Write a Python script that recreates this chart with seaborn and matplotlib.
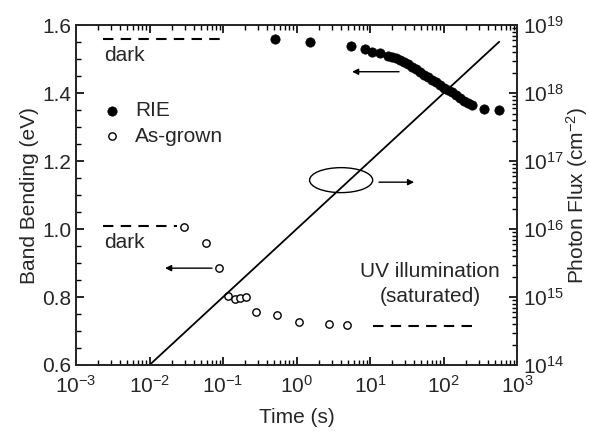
import numpy as np
import pandas as pd
import seaborn as sns
import matplotlib
matplotlib.use("Agg")
import matplotlib.pyplot as plt
from matplotlib.patches import Ellipse
from matplotlib.ticker import MultipleLocator, LogLocator, NullFormatter, FormatStrFormatter

# ---------------- data ----------------
rie_time = [0.51, 1.53, 5.5, 8.55, 10.6, 13.7, 17.6, 19.9, 22.6, 25.6, 29.0, 32.9,
            37.3, 42.3, 47.9, 54.3, 61.5, 69.8, 79.1, 89.6, 101.6, 115, 130.6,
            148, 167.6, 190, 215, 244, 356, 569]
rie_bb = [1.559, 1.550, 1.538, 1.529, 1.521, 1.518, 1.509, 1.507, 1.502, 1.497,
          1.491, 1.485, 1.478, 1.470, 1.462, 1.454, 1.447, 1.440, 1.432, 1.424,
          1.416, 1.409, 1.402, 1.394, 1.386, 1.378, 1.371, 1.365, 1.354, 1.350]

asg_time = [0.0294, 0.0588, 0.0883, 0.117, 0.146, 0.170, 0.206, 0.281, 0.543,
            1.08, 2.77, 4.86]
asg_bb = [1.006, 0.959, 0.885, 0.803, 0.794, 0.797, 0.799, 0.756, 0.747,
          0.726, 0.721, 0.718]

flux_time = [0.01, 570]
flux_val = [1e14, 5.7e18]

dark_rie_time = [0.0023, 0.1]
dark_rie_level = [1.559, 1.559]
dark_asg_time = [0.0023, 0.0237]
dark_asg_level = [1.009, 1.009]
uv_time = [11, 244]
uv_level = [0.715, 0.715]

x_limits = [1e-3, 1e3]
y_limits = [0.6, 1.6]
flux_limits = [1e14, 1e19]

# ---------------- style ----------------
sns.set_style("ticks")
plt.rcParams["font.family"] = ["Liberation Sans", "DejaVu Sans"]
plt.rcParams["mathtext.default"] = "regular"
plt.rcParams["axes.linewidth"] = 1.3
FS = 15
TC = "black"

fig = plt.figure(figsize=(5.89, 4.34), dpi=100)
ax = fig.add_axes([0.129, 0.159, 0.749, 0.783])

rie_df = pd.DataFrame({"t": rie_time, "bb": rie_bb})
asg_df = pd.DataFrame({"t": asg_time, "bb": asg_bb})
flux_df = pd.DataFrame({"t": flux_time, "f": flux_val})

sns.scatterplot(data=rie_df, x="t", y="bb", ax=ax, color="black", s=45,
                edgecolor="black", linewidth=0.5, label="RIE", zorder=3)
sns.scatterplot(data=asg_df, x="t", y="bb", ax=ax, facecolor="white", s=28,
                edgecolor="black", linewidth=1.0, label="As-grown", zorder=3)

dash = dict(color="black", lw=1.5, dashes=(5, 3.5))
ax.plot(dark_rie_time, dark_rie_level, **dash)
ax.plot(dark_asg_time, dark_asg_level, **dash)
ax.plot(uv_time, uv_level, **dash)

ax.set_xscale("log")
ax.set_xlim(*x_limits)
ax.set_ylim(*y_limits)
ax.yaxis.set_major_locator(MultipleLocator(0.2))
ax.yaxis.set_minor_locator(MultipleLocator(0.05))
ax.yaxis.set_major_formatter(FormatStrFormatter("%.1f"))
ax.xaxis.set_major_locator(LogLocator(base=10, numticks=10))
ax.xaxis.set_minor_locator(LogLocator(base=10, subs=np.arange(2, 10), numticks=20))
ax.xaxis.set_minor_formatter(NullFormatter())
ax.tick_params(axis="both", which="major", direction="in", length=6, width=1.2,
               color=TC, labelsize=FS, top=True, right=False)
ax.tick_params(axis="both", which="minor", direction="in", length=3.5, width=1.0,
               color=TC, top=True, right=False)
ax.tick_params(axis="x", which="major", pad=7)
ax.set_xlabel("Time (s)", fontsize=FS, labelpad=8)
ax.set_ylabel("Band Bending (eV)", fontsize=FS, labelpad=2)

# legend
leg = ax.legend(loc="upper left", bbox_to_anchor=(0.04, 0.80), frameon=False,
                fontsize=FS, handletextpad=0.6, labelspacing=0.3,
                borderaxespad=0, handlelength=1.0)

# right axis
ax2 = ax.twinx()
sns.lineplot(data=flux_df, x="t", y="f", ax=ax2, color="black", lw=1.3)
ax2.set_yscale("log")
ax2.set_ylim(*flux_limits)
ax2.set_xlim(*x_limits)
ax2.set_xlabel("")
ax2.yaxis.set_major_locator(LogLocator(base=10, numticks=10))
ax2.yaxis.set_minor_locator(LogLocator(base=10, subs=np.arange(2, 10), numticks=20))
ax2.yaxis.set_minor_formatter(NullFormatter())
ax2.tick_params(axis="y", which="major", direction="in", length=6, width=1.2,
                color=TC, labelsize=FS, pad=4)
ax2.tick_params(axis="y", which="minor", direction="in", length=3.5, width=1.0,
                color=TC)
ax2.set_ylabel("Photon Flux (cm$^{-2}$)", fontsize=FS, labelpad=0)
for sp in ax2.spines.values():
    sp.set_linewidth(1.3)

# annotations
ax.text(0.0024, 1.512, "dark", fontsize=FS, va="center", ha="left")
ax.text(0.0024, 0.959, "dark", fontsize=FS, va="center", ha="left")
ax.text(66, 0.874, "UV illumination", fontsize=FS, va="center", ha="center")
ax.text(66, 0.802, "(saturated)", fontsize=FS, va="center", ha="center")

arrow = dict(arrowstyle="-|>", color="black", lw=1.0, mutation_scale=9,
             shrinkA=0, shrinkB=0)
ax.annotate("", xy=(5.69, 1.463), xytext=(24.8, 1.463), arrowprops=arrow)
ax.annotate("", xy=(0.01626, 0.885), xytext=(0.0708, 0.885), arrowprops=arrow)
ax.annotate("", xy=(39.7, 1.138), xytext=(13.2, 1.138), arrowprops=arrow)
ax.add_patch(Ellipse((0.601, 0.544), 0.143, 0.0735, transform=ax.transAxes,
                     fill=False, edgecolor="black", lw=1.0))

fig.savefig("out.png", dpi=100)
